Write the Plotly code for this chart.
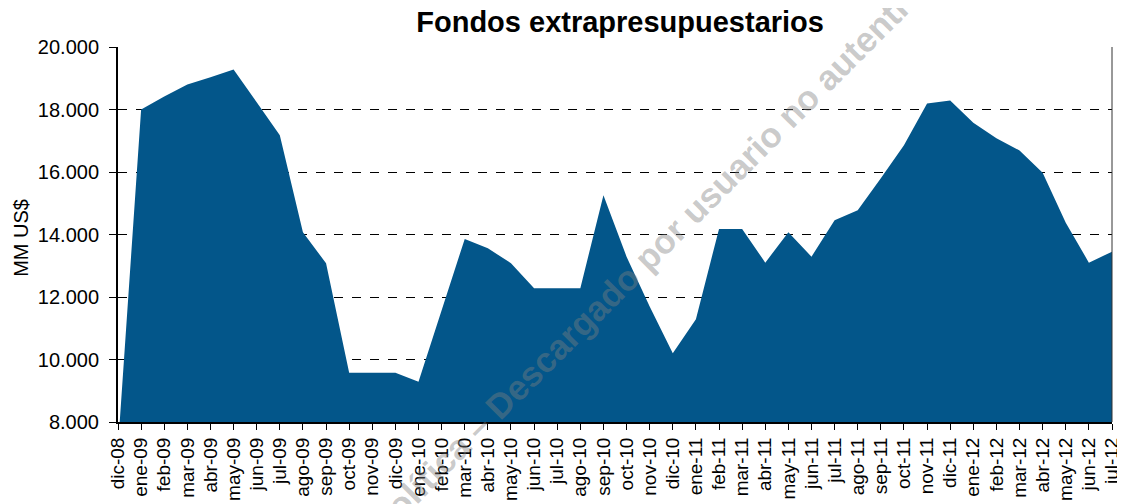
import plotly.graph_objects as go

months = ["dic-08",
          "ene-09", "feb-09", "mar-09", "abr-09", "may-09", "jun-09", "jul-09", "ago-09", "sep-09", "oct-09", "nov-09", "dic-09",
          "ene-10", "feb-10", "mar-10", "abr-10", "may-10", "jun-10", "jul-10", "ago-10", "sep-10", "oct-10", "nov-10", "dic-10",
          "ene-11", "feb-11", "mar-11", "abr-11", "may-11", "jun-11", "jul-11", "ago-11", "sep-11", "oct-11", "nov-11", "dic-11",
          "ene-12", "feb-12", "mar-12", "abr-12", "may-12", "jun-12", "jul-12"]

fondos = [7200,
          18000, 18420, 18800, 19030, 19280, 18230, 17180, 14070, 13080, 9580, 9580, 9580,
          9290, 11600, 13860, 13560, 13080, 12280, 12280, 12280, 15260, 13290, 11700, 10200,
          11290, 14180, 14180, 13100, 14070, 13290, 14460, 14780, 15800, 16860, 18190, 18290,
          17580, 17080, 16690, 15980, 14380, 13100, 13450]

y_ticks = [8000, 10000, 12000, 14000, 16000, 18000, 20000]

title = "Fondos extrapresupuestarios"
y_title = "MM US$"
watermark = "Política – Descargado por usuario no autenticado"

FONT = "Liberation Sans, Arial, sans-serif"

fig = go.Figure()
fig.add_trace(go.Scatter(
    x=months, y=fondos, mode="lines", fill="tozeroy",
    line=dict(width=0, color="#03568a"), fillcolor="#03568a",
    hoverinfo="x+y", showlegend=False,
))

# page has an 8px body margin, so the figure is sized/offset to compensate
fig.update_layout(
    width=1117, height=496,
    margin=dict(l=110, r=13, t=39, b=82),
    paper_bgcolor="white", plot_bgcolor="white",
    separators=",.",
    font=dict(family=FONT, color="black"),
    title=dict(text="<b>" + title + "</b>", x=0.548, xanchor="center", y=0.973, yanchor="middle",
               font=dict(size=29, family=FONT, color="black")),
    showlegend=False,
)

fig.update_xaxes(
    type="category", range=[0, len(months) - 1], automargin=False,
    tickangle=-90, tickfont=dict(size=19, family=FONT, color="black"),
    ticks="outside", ticklen=6, tickwidth=1, tickcolor="black",
    showline=True, linecolor="black", linewidth=2,
    showgrid=False, zeroline=False,
)
fig.update_yaxes(
    range=[8000, 20000], tickvals=y_ticks, tickformat=",d", automargin=False,
    tickfont=dict(size=20, family=FONT, color="black"),
    ticks="outside", ticklen=7, tickwidth=1, tickcolor="black", ticklabelstandoff=6,
    showline=True, linecolor="black", linewidth=2,
    showgrid=True, gridcolor="black", gridwidth=1, griddash="dash",
    zeroline=False,
)

# y axis title
fig.add_annotation(text=y_title, xref="paper", yref="paper", x=-0.097, y=0.49,
                   xanchor="center", yanchor="middle", showarrow=False, textangle=-90,
                   font=dict(size=20, family=FONT, color="black"))

# right border of plot area
fig.add_shape(type="line", xref="paper", yref="paper", x0=1, x1=1, y0=0, y1=1,
              line=dict(color="#333333", width=1))

# watermark
fig.add_annotation(text="<b>" + watermark + "</b>", xref="paper", yref="paper",
                   x=0.553, y=0.495, showarrow=False, textangle=-45,
                   font=dict(size=35, family=FONT, color="rgba(128,128,128,0.42)"))

fig.write_html("out.html")
